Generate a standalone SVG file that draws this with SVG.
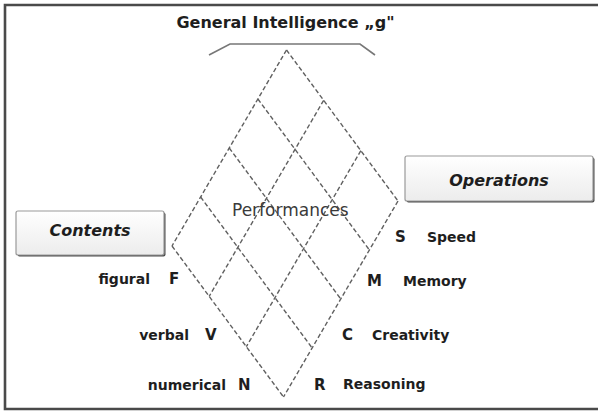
<svg xmlns="http://www.w3.org/2000/svg" width="598" height="412" viewBox="0 0 598 412">
<style>
.grid{stroke:#606060;stroke-width:1.4;stroke-dasharray:4.5 2.5;fill:none}
.lbl{font-family:"DejaVu Sans",sans-serif;font-weight:bold;font-size:14px;fill:#1e1e1e}
.let{font-family:"DejaVu Sans",sans-serif;font-weight:bold;font-size:15px;fill:#1e1e1e}
.box{fill:url(#bg);stroke:#9a9a9a;stroke-width:1.2}
.shadow{fill:#4a4a4a}
.boxtxt{font-family:"DejaVu Sans",sans-serif;font-weight:bold;font-style:italic;font-size:16px;fill:#1e1e1e;text-anchor:middle}
</style>
<defs>
<linearGradient id="bg" x1="0" y1="0" x2="0" y2="1">
<stop offset="0" stop-color="#ffffff"/>
<stop offset="1" stop-color="#ececec"/>
</linearGradient>
</defs>
<rect width="598" height="412" fill="#ffffff"/>
<path d="M598,5 H5 V409 H598" fill="none" stroke="#4a4a4a" stroke-width="2.6"/>
<g id="title">
<text x="285.5" y="28" font-family="DejaVu Sans, sans-serif" font-weight="bold" font-size="16" fill="#1e1e1e" text-anchor="middle">General Intelligence „g"</text>
<polyline points="209,55 230,44 360,44 375,55" fill="none" stroke="#777" stroke-width="1.6"/>
</g>
<g id="connectors">
<line class="grid" x1="286.5" y1="50" x2="172" y2="246"/>
<line class="grid" x1="323.67" y1="100.33" x2="209.17" y2="296.33"/>
<line class="grid" x1="360.83" y1="150.67" x2="246.33" y2="346.67"/>
<line class="grid" x1="398" y1="201" x2="283.5" y2="397"/>
<line class="grid" x1="286.5" y1="50" x2="398" y2="201"/>
<line class="grid" x1="257.875" y1="99" x2="369.375" y2="250"/>
<line class="grid" x1="229.25" y1="148" x2="340.75" y2="299"/>
<line class="grid" x1="200.625" y1="197" x2="312.125" y2="348"/>
<line class="grid" x1="172" y1="246" x2="283.5" y2="397"/>
</g>
<g id="performances">
<text x="232" y="216" font-family="DejaVu Sans, sans-serif" font-size="17" fill="#3a3a3a">Performances</text>
</g>
<g id="contents">
<rect class="shadow" x="17.5" y="212.5" width="148" height="44" rx="2"/>
<rect class="box" x="16" y="211" width="148" height="44" rx="2"/>
<text class="boxtxt" x="90" y="236">Contents</text>
</g>
<g id="operations">
<rect class="shadow" x="406.5" y="157.5" width="188" height="45" rx="2"/>
<rect class="box" x="405" y="156" width="188" height="45" rx="2"/>
<text class="boxtxt" x="499" y="186">Operations</text>
</g>
<g id="content-labels">
<text class="lbl" x="150" y="284" text-anchor="end">figural</text>
<text class="let" x="169" y="284">F</text>
<text class="lbl" x="189" y="340" text-anchor="end">verbal</text>
<text class="let" x="205" y="340">V</text>
<text class="lbl" x="226" y="390" text-anchor="end">numerical</text>
<text class="let" x="238" y="390">N</text>
</g>
<g id="operation-labels">
<text class="let" x="395" y="242">S</text>
<text class="lbl" x="427" y="242">Speed</text>
<text class="let" x="367" y="286">M</text>
<text class="lbl" x="403" y="286">Memory</text>
<text class="let" x="342" y="340">C</text>
<text class="lbl" x="372" y="340">Creativity</text>
<text class="let" x="314" y="390">R</text>
<text class="lbl" x="343" y="389">Reasoning</text>
</g>
</svg>
